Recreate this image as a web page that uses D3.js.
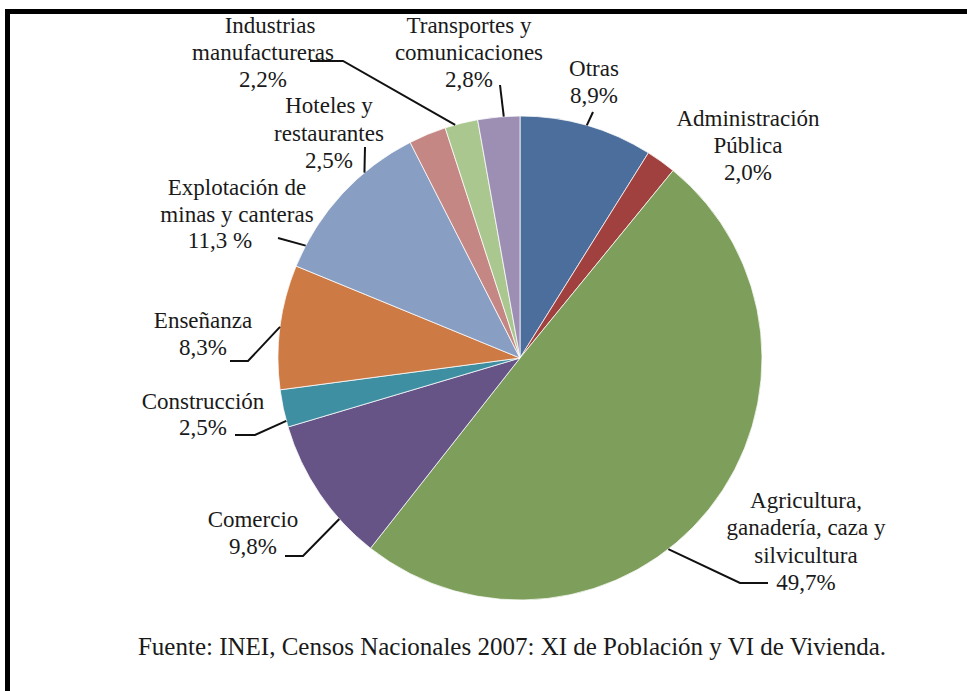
<!DOCTYPE html>
<html><head><meta charset="utf-8">
<script src="https://cdn.jsdelivr.net/npm/d3@7"></script>
<style>html,body{margin:0;padding:0;background:#fff;} svg{display:block;}</style>
</head><body>
<svg id="chart" width="967" height="691"></svg>
<script>
// ---- data ----
const categories = ["Otras", "Administración Pública", "Agricultura, ganadería, caza y silvicultura",
  "Comercio", "Construcción", "Enseñanza", "Explotación de minas y canteras",
  "Hoteles y restaurantes", "Industrias manufactureras", "Transportes y comunicaciones"];
const shares = [8.9, 2.0, 49.7, 9.8, 2.5, 8.3, 11.3, 2.5, 2.2, 2.8];
const labelLines = [
  ["Otras", "8,9%"],
  ["Administración", "Pública", "2,0%"],
  ["Agricultura,", "ganadería, caza y", "silvicultura", "49,7%"],
  ["Comercio", "9,8%"],
  ["Construcción", "2,5%"],
  ["Enseñanza", "8,3%"],
  ["Explotación de", "minas y canteras", "11,3 %"],
  ["Hoteles y", "restaurantes", "2,5%"],
  ["Industrias", "manufactureras", "2,2%"],
  ["Transportes y", "comunicaciones", "2,8%"]
];
const sourceNote = "Fuente: INEI, Censos Nacionales 2007: XI de Población y VI de Vivienda.";

// ---- styles / layout (not data) ----
const colors = ["#4B6E9C", "#A1413F", "#7E9F5C", "#665487", "#3F8FA2", "#CD7A45",
  "#889EC3", "#C58784", "#AAC78F", "#9D8FB4"];
const cx = 520, cy = 358, R = 242;
const FONT = "'Liberation Serif', 'Times New Roman', serif";
const labelLayout = [
  {x: 594, y: 76,  lh: 27, leader: [[593, 112]], off: 0},
  {x: 748, y: 126, lh: 27, leader: null},
  {x: 806, y: 508, lh: 27.3, leader: [[768, 583], [740, 583]], off: 13.5},
  {x: 253, y: 527, lh: 27, leader: [[285, 556], [303, 556]], off: -7.5},
  {x: 203, y: 409, lh: 26, leader: [[235, 435], [255, 435]], off: -3},
  {x: 203, y: 328, lh: 27, leader: [[230, 361], [248, 361]], off: 0},
  {x: 237, y: 195, lh: 26.5, dx: [0, 0, -17], leader: [[278, 238]], off: -15},
  {x: 329, y: 113, lh: 27.5, leader: [[365, 147]], off: -17.5},
  {x: 263, y: 33,  lh: 27, dx: [7, 0, 0], leader: [[310, 61], [343, 61]], off: -1.5},
  {x: 469, y: 33,  lh: 27, leader: [[500, 85]], off: 1.2}
];

const svg = d3.select("#chart");
svg.append("rect").attr("width", 967).attr("height", 691).attr("fill", "#fff");

// frame (top and left edges visible)
svg.append("path")
  .attr("d", "M7.5,691 L7.5,11.5 L967,11.5")
  .attr("fill", "none").attr("stroke", "#000").attr("stroke-width", 5);

const pie = d3.pie().sort(null).value(d => d).startAngle(0).endAngle(2 * Math.PI);
const arcs = pie(shares);
const arc = d3.arc().innerRadius(0).outerRadius(R);

const g = svg.append("g").attr("transform", `translate(${cx},${cy})`);
g.selectAll("path.slice").data(arcs).enter().append("path")
  .attr("class", "slice")
  .attr("d", arc)
  .attr("fill", (d, i) => colors[i])
  .attr("stroke", "rgba(255,255,255,0.75)")
  .attr("stroke-width", 1);

// leader lines
const line = d3.line();
arcs.forEach((d, i) => {
  const L = labelLayout[i];
  if (!L.leader) return;
  const a = (d.startAngle + d.endAngle) / 2 + L.off * Math.PI / 180;
  const end = [cx + R * Math.sin(a), cy - R * Math.cos(a)];
  svg.append("path")
    .attr("d", line(L.leader.concat([end])))
    .attr("fill", "none").attr("stroke", "#111").attr("stroke-width", 2);
});

// labels
arcs.forEach((d, i) => {
  const L = labelLayout[i];
  const t = svg.append("text")
    .attr("font-family", FONT).attr("font-size", 23).attr("fill", "#1a1a1a")
    .attr("text-anchor", "middle");
  labelLines[i].forEach((s, k) => {
    t.append("tspan")
      .attr("x", L.x + (L.dx ? L.dx[k] : 0))
      .attr("y", L.y + k * L.lh)
      .text(s);
  });
});

// source note
svg.append("text")
  .attr("x", 512).attr("y", 655)
  .attr("font-family", FONT).attr("font-size", 25).attr("fill", "#1a1a1a")
  .attr("text-anchor", "middle")
  .text(sourceNote);
</script>
</body></html>
